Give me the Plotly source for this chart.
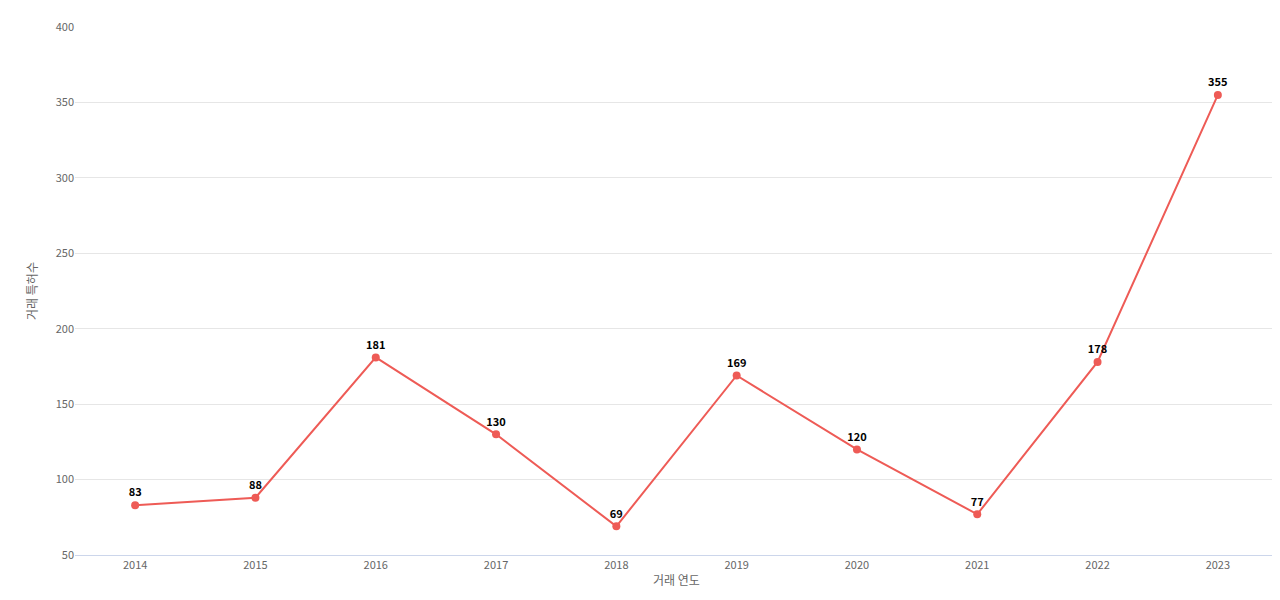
import plotly.graph_objects as go

years = ["2014", "2015", "2016", "2017", "2018", "2019", "2020", "2021", "2022", "2023"]
counts = [83, 88, 181, 130, 69, 169, 120, 77, 178, 355]

fig = go.Figure(go.Scatter(
    x=years, y=counts,
    mode="lines+markers+text",
    line=dict(color="#ee5b56", width=2),
    marker=dict(color="#ee5b56", size=8),
    text=[f"<b>{c}</b>" for c in counts],
    textposition="top center",
    textfont=dict(color="black", size=11),
))

fig.update_layout(
    width=1280, height=600,
    plot_bgcolor="white", paper_bgcolor="white",
    font=dict(family="Noto Sans CJK KR", color="#666", size=11),
    margin=dict(l=67, r=10, t=10, b=53),
    showlegend=False,
    xaxis=dict(type="category", range=[-0.5, 9.5], showgrid=False,
               showline=True, linecolor="#ccd6eb", ticks="",
               title=dict(text="거래 연도", font=dict(size=12), standoff=5)),
    yaxis=dict(range=[50, 400], dtick=50, gridcolor="#e6e6e6", zeroline=False,
               title=dict(text="거래 특허수", font=dict(size=12), standoff=15)),
)

fig.write_html("out.html")
